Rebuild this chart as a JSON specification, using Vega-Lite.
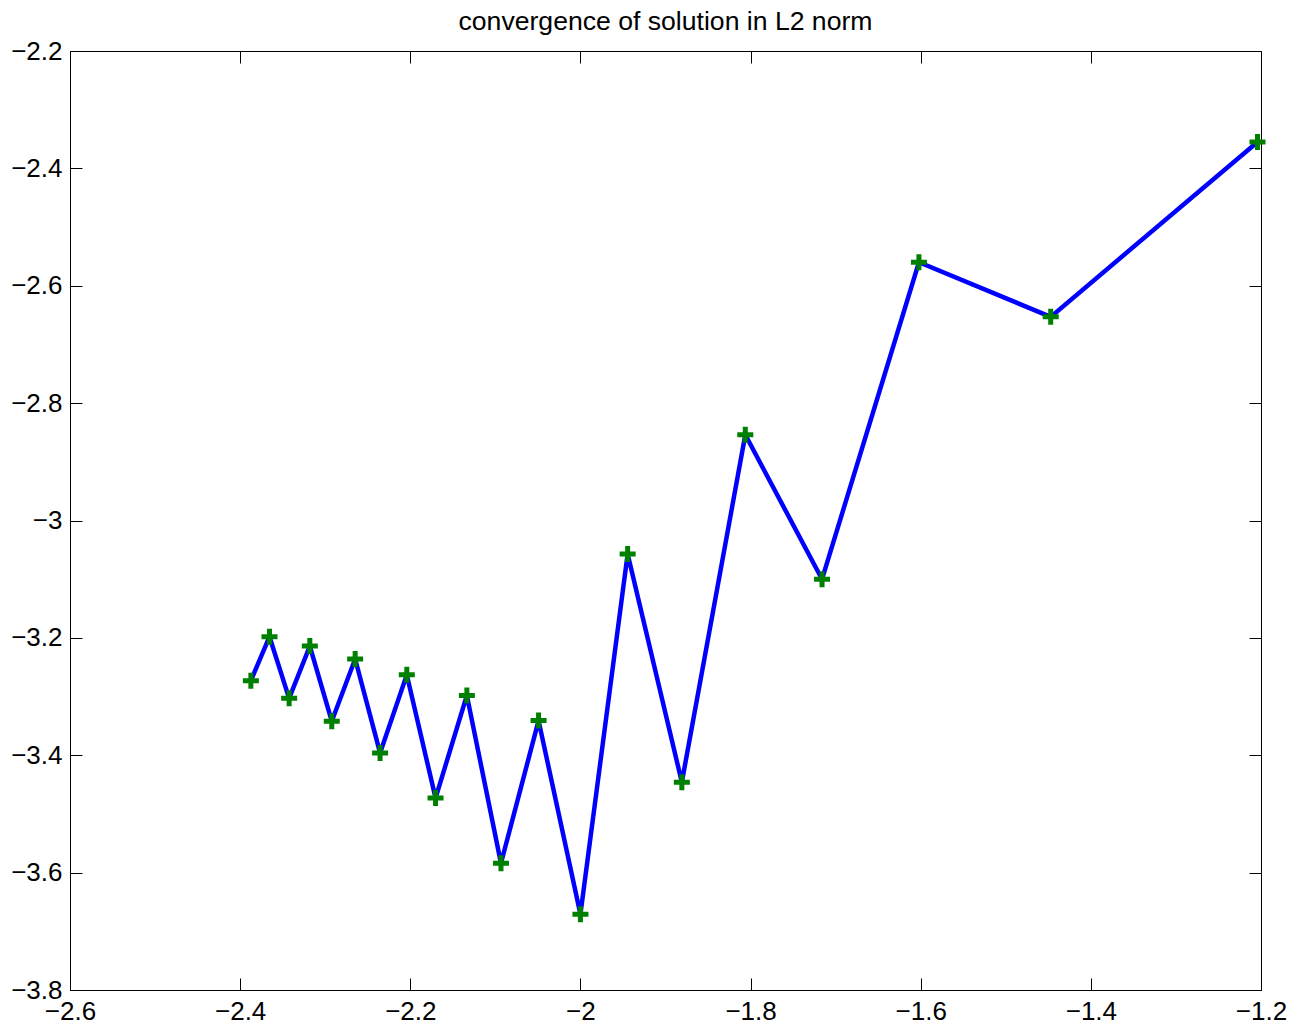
{
  "$schema": "https://vega.github.io/schema/vega-lite/v6.json",
  "width": 1191,
  "height": 939,
  "autosize": "none",
  "padding": {"left": 70, "top": 51, "right": 37, "bottom": 35},
  "background": "white",
  "config": {
    "view": {"stroke": null},
    "font": "Liberation Sans",
    "axis": {
      "domainColor": "black",
      "domainWidth": 1,
      "tickColor": "black",
      "tickWidth": 1,
      "tickSize": -12,
      "grid": false,
      "title": null,
      "labelFont": "Liberation Sans",
      "labelFontSize": 26,
      "labelColor": "black",
      "labelFlush": false,
      "labelOverlap": false,
      "format": "~g"
    }
  },
  "title": {
    "text": "convergence of solution in L2 norm",
    "font": "Liberation Sans",
    "fontSize": 26.6,
    "fontWeight": "normal",
    "color": "black",
    "anchor": "middle",
    "frame": "group",
    "baseline": "alphabetic",
    "offset": -19
  },
  "data": {
    "values": [
      {"log10_h": -2.3874, "log10_err": -3.273},
      {"log10_h": -2.3655, "log10_err": -3.198},
      {"log10_h": -2.3424, "log10_err": -3.303},
      {"log10_h": -2.3181, "log10_err": -3.214},
      {"log10_h": -2.2923, "log10_err": -3.342},
      {"log10_h": -2.2648, "log10_err": -3.236},
      {"log10_h": -2.2355, "log10_err": -3.396},
      {"log10_h": -2.2041, "log10_err": -3.263},
      {"log10_h": -2.1703, "log10_err": -3.473},
      {"log10_h": -2.1335, "log10_err": -3.298},
      {"log10_h": -2.0934, "log10_err": -3.584},
      {"log10_h": -2.0492, "log10_err": -3.341},
      {"log10_h": -2.0, "log10_err": -3.671},
      {"log10_h": -1.9445, "log10_err": -3.057},
      {"log10_h": -1.8808, "log10_err": -3.446},
      {"log10_h": -1.8062, "log10_err": -2.854},
      {"log10_h": -1.716, "log10_err": -3.1},
      {"log10_h": -1.6021, "log10_err": -2.56},
      {"log10_h": -1.4472, "log10_err": -2.653},
      {"log10_h": -1.2041, "log10_err": -2.355}
    ]
  },
  "layer": [
    {
      "mark": {"type": "line", "color": "#0000ff", "strokeWidth": 4.5, "strokeJoin": "miter"},
      "encoding": {
        "x": {
          "field": "log10_h",
          "type": "quantitative",
          "scale": {"domain": [-2.6, -1.2], "nice": false, "zero": false},
          "axis": {
            "orient": "bottom",
            "values": [-2.6, -2.4, -2.2, -2.0, -1.8, -1.6, -1.4, -1.2],
            "labelPadding": 20,
            "labelDx": -7
          }
        },
        "y": {
          "field": "log10_err",
          "type": "quantitative",
          "scale": {"domain": [-3.8, -2.2], "nice": false, "zero": false},
          "axis": {
            "orient": "left",
            "values": [-3.8, -3.6, -3.4, -3.2, -3.0, -2.8, -2.6, -2.4, -2.2],
            "labelPadding": 20
          }
        }
      }
    },
    {
      "mark": {
        "type": "point",
        "shape": "M-1,0L1,0M0,-1L0,1",
        "size": 256,
        "filled": false,
        "stroke": "#008000",
        "strokeWidth": 5,
        "strokeCap": "butt",
        "opacity": 1
      },
      "encoding": {
        "x": {
          "field": "log10_h",
          "type": "quantitative",
          "axis": {
            "orient": "top",
            "values": [-2.6, -2.4, -2.2, -2.0, -1.8, -1.6, -1.4, -1.2],
            "labels": false
          }
        },
        "y": {
          "field": "log10_err",
          "type": "quantitative",
          "axis": {
            "orient": "right",
            "values": [-3.8, -3.6, -3.4, -3.2, -3.0, -2.8, -2.6, -2.4, -2.2],
            "labels": false
          }
        }
      }
    }
  ],
  "resolve": {"axis": {"x": "independent", "y": "independent"}}
}
